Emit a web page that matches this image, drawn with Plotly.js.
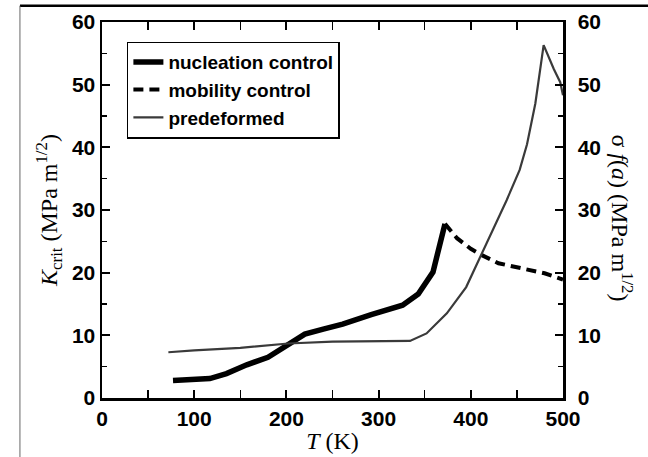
<!DOCTYPE html>
<html>
<head>
<meta charset="utf-8">
<script src="https://cdn.plot.ly/plotly-3.0.1.min.js"></script>
<style>html,body{margin:0;padding:0;background:#fff;}#chart{width:648px;height:457px;}</style>
</head>
<body>
<div id="chart"></div>
<script>
// Nucleation control (K_crit, solid thick)
const nucT   = [77, 100, 117, 135, 157, 180, 202, 220, 240, 261, 292, 326, 343, 359, 372];
const nucK   = [2.8, 2.9, 3.1, 3.9, 5.3, 6.5, 8.6, 10.2, 11.0, 11.8, 13.3, 14.8, 16.6, 20.1, 27.8];
// Mobility control (K_crit, dashed thick)
const mobT   = [372, 385, 400, 412, 430, 453, 480, 500];
const mobK   = [27.8, 25.5, 23.8, 22.8, 21.5, 20.7, 19.9, 18.9];
// Predeformed (sigma f(a), right axis)
const preT   = [72, 100, 150, 202, 250, 300, 334, 352, 374, 395, 412, 439, 453, 461, 470, 475, 479, 490, 497, 500];
const preS   = [7.3, 7.6, 8.0, 8.7, 9.0, 9.0, 9.1, 10.3, 13.5, 17.7, 23.0, 31.6, 36.4, 40.5, 47.0, 51.8, 56.3, 52.5, 50.4, 48.3];

const tickFont = {family: 'Liberation Sans, Arial, sans-serif', size: 21, color: '#000', weight: 'bold'};
const serif = 'Liberation Serif, Times New Roman, serif';

const traces = [
  {x: nucT, y: nucK, type: 'scatter', mode: 'lines', name: 'nucleation control',
   line: {color: '#000', width: 5.5}},
  {x: mobT, y: mobK, type: 'scatter', mode: 'lines', name: 'mobility control',
   line: {color: '#000', width: 4, dash: '10px,6px'}},
  {x: preT, y: preS, type: 'scatter', mode: 'lines', name: 'predeformed', yaxis: 'y2',
   line: {color: '#3a3a3a', width: 2.2}}
];

const layout = {
  width: 648, height: 457,
  margin: {l: 102, r: 85, t: 22, b: 59},
  paper_bgcolor: '#fff', plot_bgcolor: '#fff',
  showlegend: true,
  legend: {x: 0.054, y: 0.948, xanchor: 'left', yanchor: 'top',
    bgcolor: '#fff', bordercolor: '#000', borderwidth: 1.5,
    font: {family: 'Liberation Sans, Arial, sans-serif', size: 19, color: '#000', weight: 'bold'},
    itemwidth: 30, tracegroupgap: 0},
  xaxis: {range: [0, 500], tickvals: [0, 100, 200, 300, 400, 500],
    ticks: 'inside', ticklen: 8, tickwidth: 2, tickcolor: '#000',
    minor: {dtick: 50, ticks: 'inside', ticklen: 5, tickwidth: 1.5, tickcolor: '#000'},
    showline: true, linecolor: '#000', linewidth: 2.5, mirror: 'allticks',
    showgrid: false, zeroline: false, tickfont: tickFont,
    title: {text: '<i>T</i> (K)', font: {family: serif, size: 24, color: '#000'}, standoff: 4}},
  yaxis: {range: [0, 60], tickvals: [0, 10, 20, 30, 40, 50, 60],
    ticks: 'inside', ticklen: 8, tickwidth: 2, tickcolor: '#000',
    minor: {dtick: 5, ticks: 'inside', ticklen: 5, tickwidth: 1.5, tickcolor: '#000'},
    showline: true, linecolor: '#000', linewidth: 2.5, mirror: false,
    showgrid: false, zeroline: false, tickfont: tickFont,
    title: {text: '<i>K</i><sub>crit</sub> (MPa m<sup>1/2</sup>)', font: {family: serif, size: 24, color: '#000'}, standoff: 8}},
  yaxis2: {range: [0, 60], tickvals: [0, 10, 20, 30, 40, 50, 60], overlaying: 'y', side: 'right',
    ticks: 'inside', ticklen: 8, tickwidth: 2, tickcolor: '#000',
    minor: {dtick: 5, ticks: 'inside', ticklen: 5, tickwidth: 1.5, tickcolor: '#000'},
    showline: true, linecolor: '#000', linewidth: 2.5, ticklabelstandoff: 8,
    showgrid: false, zeroline: false, tickfont: tickFont},
  annotations: [
    {xref: 'paper', yref: 'paper', x: 1.165, y: 0.48, textangle: 90, showarrow: false,
     text: 'σ <i>f</i>(<i>a</i>) (MPa m<sup>1/2</sup>)', font: {family: serif, size: 24, color: '#000'}}
  ],
  shapes: [
    {type: 'line', xref: 'paper', yref: 'paper', x0: -0.178, x1: 1.2, y0: 1.043, y1: 1.043,
     line: {color: '#000', width: 2.5}},
    {type: 'line', xref: 'paper', yref: 'paper', x0: -0.178, x1: -0.178, y0: 1.043, y1: -0.2,
     line: {color: '#666', width: 1}}
  ]
};

Plotly.newPlot('chart', traces, layout, {displayModeBar: false, staticPlot: true});
</script>
</body>
</html>
